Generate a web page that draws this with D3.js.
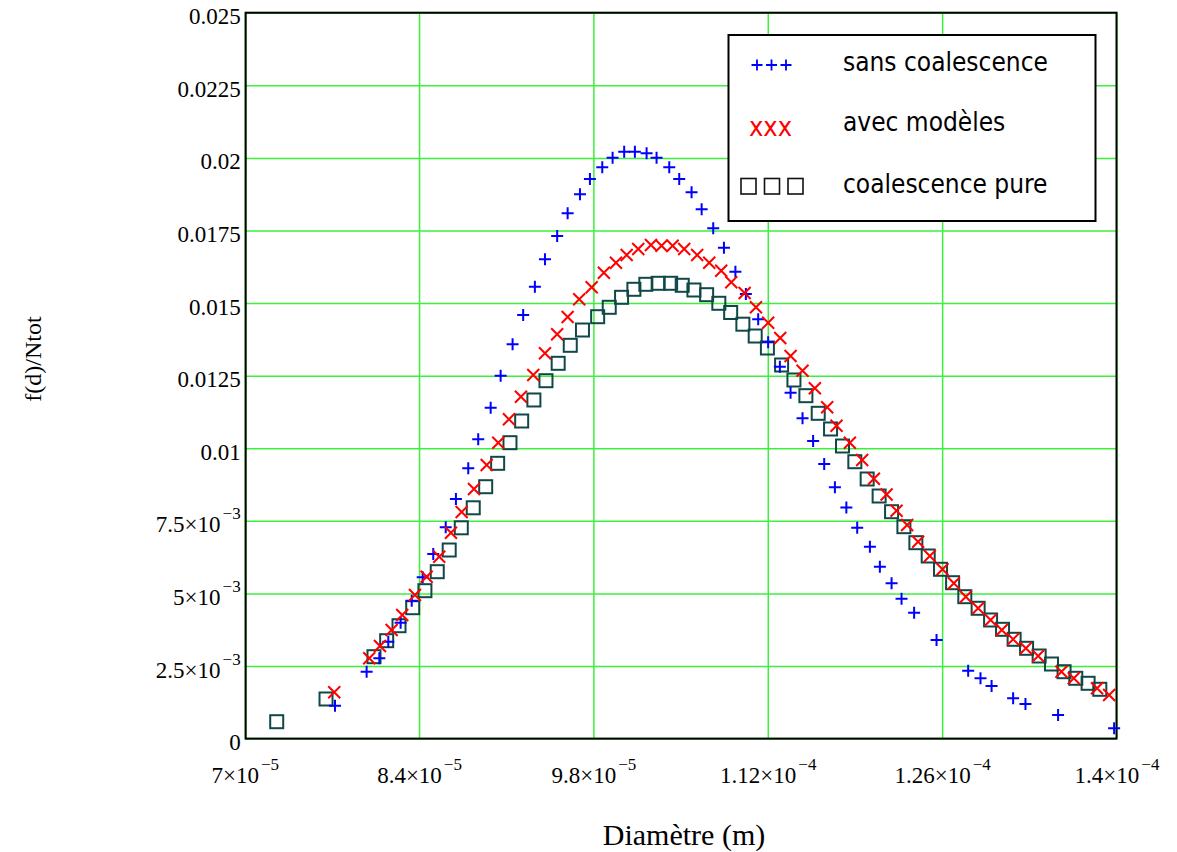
<!DOCTYPE html>
<html><head><meta charset="utf-8">
<script src="https://cdn.jsdelivr.net/npm/d3@7"></script>
<style>body{margin:0;background:#fff}</style></head>
<body>
<svg id="c" width="1177" height="852"></svg>
<script>
// ---- tick labels ----
const xTicks=[7e-5,8.4e-5,9.8e-5,1.12e-4,1.26e-4,1.4e-4];
const xTickMant=["7×10","8.4×10","9.8×10","1.12×10","1.26×10","1.4×10"];
const xTickExp=["−5","−5","−5","−4","−4","−4"];
const yTicks=[0,0.0025,0.005,0.0075,0.01,0.0125,0.015,0.0175,0.02,0.0225,0.025];
const yTickMant=["0","2.5×10","5×10","7.5×10","0.01","0.0125","0.015","0.0175","0.02","0.0225","0.025"];
const yTickExp=["","−3","−3","−3","","","","","","",""];

// ---- series: sans coalescence (+) ----
const sansD=[7.725e-5,7.979e-5,8.081e-5,8.153e-5,8.252e-5,8.341e-5,8.429e-5,8.514e-5,8.614e-5,8.696e-5,8.795e-5,8.875e-5,8.975e-5,9.055e-5,9.151e-5,9.236e-5,9.330e-5,9.411e-5,9.509e-5,9.593e-5,9.692e-5,9.772e-5,9.871e-5,9.954e-5,10.047e-5,10.133e-5,10.227e-5,10.307e-5,10.409e-5,10.489e-5,10.588e-5,10.669e-5,10.762e-5,10.848e-5,10.940e-5,11.024e-5,11.123e-5,11.203e-5,11.297e-5,11.383e-5,11.479e-5,11.564e-5,11.653e-5,11.739e-5,11.831e-5,11.918e-5,12.020e-5,12.100e-5,12.194e-5,12.274e-5,12.375e-5,12.555e-5,12.809e-5,12.908e-5,12.997e-5,13.170e-5,13.269e-5,13.531e-5,13.981e-5];
const sansF=[0.001133,0.002304,0.002766,0.003337,0.003992,0.004749,0.005555,0.006358,0.007277,0.008252,0.009309,0.010308,0.011396,0.012498,0.01358,0.014589,0.015563,0.016507,0.01731,0.018091,0.018746,0.019273,0.019676,0.020006,0.020213,0.020213,0.020158,0.020006,0.019676,0.019273,0.018815,0.018229,0.017575,0.016907,0.01608,0.015312,0.014444,0.013652,0.012808,0.011913,0.011031,0.010249,0.009457,0.008655,0.007959,0.007263,0.006609,0.00592,0.005349,0.004818,0.004336,0.003396,0.002338,0.002077,0.001812,0.001388,0.001192,0.000813,0.000355];

// ---- series: avec modèles (x) ----
const avecD=[7.719e-5,8.000e-5,8.086e-5,8.180e-5,8.265e-5,8.367e-5,8.461e-5,8.562e-5,8.656e-5,8.742e-5,8.841e-5,8.943e-5,9.036e-5,9.122e-5,9.218e-5,9.317e-5,9.411e-5,9.509e-5,9.593e-5,9.686e-5,9.786e-5,9.884e-5,9.981e-5,10.067e-5,10.160e-5,10.262e-5,10.347e-5,10.436e-5,10.529e-5,10.633e-5,10.730e-5,10.826e-5,10.907e-5,11.014e-5,11.105e-5,11.203e-5,11.300e-5,11.383e-5,11.479e-5,11.578e-5,11.677e-5,11.752e-5,11.859e-5,11.958e-5,12.052e-5,12.154e-5,12.234e-5,12.319e-5,12.407e-5,12.501e-5,12.603e-5,12.694e-5,12.790e-5,12.889e-5,12.989e-5,13.079e-5,13.170e-5,13.272e-5,13.371e-5,13.558e-5,13.657e-5,13.844e-5,13.941e-5];
const avecF=[0.001595,0.002766,0.003189,0.00374,0.004257,0.004946,0.005576,0.006265,0.007091,0.007804,0.008596,0.009423,0.010191,0.010997,0.011775,0.012522,0.01327,0.013924,0.01452,0.01513,0.015543,0.016046,0.01639,0.016655,0.016862,0.017,0.016975,0.016975,0.016862,0.016655,0.01639,0.016111,0.015719,0.015346,0.014854,0.014324,0.013797,0.013177,0.01267,0.012064,0.01141,0.010776,0.010191,0.009595,0.008948,0.008407,0.007849,0.007356,0.006781,0.006289,0.005831,0.005349,0.004887,0.004488,0.004085,0.00374,0.00342,0.00311,0.002845,0.002304,0.002077,0.001732,0.001502];

// ---- series: coalescence pure (squares) ----
const pureD=[7.257e-5,7.653e-5,8.038e-5,8.140e-5,8.239e-5,8.349e-5,8.447e-5,8.546e-5,8.642e-5,8.739e-5,8.835e-5,8.935e-5,9.031e-5,9.130e-5,9.224e-5,9.322e-5,9.419e-5,9.517e-5,9.614e-5,9.712e-5,9.834e-5,9.927e-5,10.026e-5,10.125e-5,10.221e-5,10.320e-5,10.420e-5,10.513e-5,10.607e-5,10.709e-5,10.807e-5,10.902e-5,11.000e-5,11.099e-5,11.197e-5,11.311e-5,11.410e-5,11.506e-5,11.605e-5,11.704e-5,11.800e-5,11.899e-5,11.998e-5,12.094e-5,12.194e-5,12.293e-5,12.389e-5,12.488e-5,12.587e-5,12.684e-5,12.782e-5,12.889e-5,12.989e-5,13.085e-5,13.178e-5,13.278e-5,13.379e-5,13.478e-5,13.579e-5,13.673e-5,13.772e-5,13.866e-5];
const pureF=[0.000582,0.001364,0.002821,0.003372,0.003888,0.004508,0.005094,0.005748,0.006495,0.00726,0.007949,0.008675,0.009481,0.010191,0.010938,0.011662,0.012326,0.012925,0.013545,0.014072,0.01453,0.014854,0.015198,0.015474,0.015646,0.015681,0.015681,0.015612,0.01545,0.015288,0.014992,0.014675,0.014272,0.013865,0.013452,0.012867,0.01235,0.01181,0.011203,0.010663,0.010077,0.009536,0.008941,0.008355,0.007814,0.007298,0.006747,0.006289,0.005831,0.005369,0.004887,0.004488,0.004085,0.003764,0.00342,0.00311,0.002845,0.002569,0.002304,0.002077,0.001905,0.001698];

const legendLabels=["sans coalescence","avec modèles","coalescence pure"];
const xTitle="Diamètre (m)", yTitle="f(d)/Ntot";

// ---- layout ----
const L=244.7,R=1116.5,T=12.7,B=738.6;
const svg=d3.select("#c");
const x=d3.scaleLinear().domain([7e-5,1.4e-4]).range([L,R]);
const y=d3.scaleLinear().domain([0,0.025]).range([B,T]);
const serif="'Liberation Serif','Times New Roman',serif";
const sans="'DejaVu Sans Condensed','DejaVu Sans',sans-serif";
const green="#3cf03c";

// grid
svg.append("g").attr("transform",`translate(0,${B})`)
  .call(d3.axisBottom(x).tickValues(xTicks).tickSize(-(B-T)).tickFormat(""))
  .call(g=>{g.select(".domain").remove();g.selectAll("line").attr("stroke",green).attr("stroke-width",1.5);});
svg.append("g").attr("transform",`translate(${L},0)`)
  .call(d3.axisLeft(y).tickValues(yTicks).tickSize(-(R-L)).tickFormat(""))
  .call(g=>{g.select(".domain").remove();g.selectAll("line").attr("stroke",green).attr("stroke-width",1.5);});

// frame
svg.append("rect").attr("x",L+1).attr("y",T).attr("width",R-L-1).attr("height",B-T)
  .attr("fill","none").attr("stroke","#000").attr("stroke-width",2);

// axis labels
const xa=svg.append("g").attr("transform",`translate(0,${B})`)
  .call(d3.axisBottom(x).tickValues(xTicks).tickSize(0).tickPadding(0).tickFormat(""));
xa.select(".domain").remove();
xa.selectAll(".tick text").remove();
xa.selectAll(".tick").each(function(d,i){
  const t=d3.select(this).append("text").attr("y",44).attr("text-anchor","middle")
    .attr("fill","#000").style("font-family",serif).style("font-size","23px");
  t.append("tspan").text(xTickMant[i]);
  t.append("tspan").attr("dx",2).attr("dy",-13).style("font-size","17px").text(xTickExp[i]);
});
const ya=svg.append("g").attr("transform",`translate(${L},0)`)
  .call(d3.axisLeft(y).tickValues(yTicks).tickSize(0).tickFormat(""));
ya.select(".domain").remove();
ya.selectAll(".tick text").remove();
ya.selectAll(".tick").each(function(d,i){
  const t=d3.select(this).append("text").attr("x",-4).attr("y",11).attr("text-anchor","end")
    .attr("fill","#000").style("font-family",serif).style("font-size","23px");
  t.append("tspan").text(yTickMant[i]);
  if(yTickExp[i]) t.append("tspan").attr("dx",2).attr("dy",-13).style("font-size","17px").text(yTickExp[i]);
});

// titles
svg.append("text").attr("x",684).attr("y",845).attr("text-anchor","middle")
  .style("font-family",serif).style("font-size","30px").text(xTitle);
svg.append("text").attr("transform","translate(41,359) rotate(-90)").attr("text-anchor","middle")
  .style("font-family",serif).style("font-size","24px").text(yTitle);

// markers
const sq=6.5, pl=6, cr=6;
svg.append("g").selectAll("rect").data(d3.zip(pureD,pureF)).join("rect")
  .attr("x",d=>x(d[0])-sq).attr("y",d=>y(d[1])-sq).attr("width",2*sq).attr("height",2*sq)
  .attr("fill","none").attr("stroke","#104848").attr("stroke-width",2);
svg.append("g").selectAll("path").data(d3.zip(sansD,sansF)).join("path")
  .attr("d",d=>{const a=x(d[0]),b=y(d[1]);return `M${a-pl},${b}H${a+pl}M${a},${b-pl}V${b+pl}`;})
  .attr("stroke","#0000ff").attr("stroke-width",2).attr("fill","none");
svg.append("g").selectAll("path").data(d3.zip(avecD,avecF)).join("path")
  .attr("d",d=>{const a=x(d[0]),b=y(d[1]);return `M${a-cr},${b-cr}L${a+cr},${b+cr}M${a-cr},${b+cr}L${a+cr},${b-cr}`;})
  .attr("stroke","#ff0000").attr("stroke-width",2).attr("fill","none");

// legend
const lg=svg.append("g");
lg.append("rect").attr("x",728.5).attr("y",35).attr("width",367).attr("height",186)
  .attr("fill","#fff").attr("stroke","#000").attr("stroke-width",2);
const ly=[70.5,131,193];
legendLabels.forEach((s,i)=>{
  lg.append("text").attr("x",843).attr("y",ly[i]).style("font-family",sans).style("font-size","26px")
    .attr("fill","#000").text(s);
});
[757,771.5,786].forEach(cx=>{
  lg.append("path").attr("d",`M${cx-5.5},65H${cx+5.5}M${cx},59.5V70.5`).attr("stroke","#0000ff").attr("stroke-width",1.8);
});
lg.append("text").attr("x",770.5).attr("y",136).attr("text-anchor","middle").style("font-family",sans)
  .style("font-size","27px").attr("fill","#ff0000").text("xxx");
[748.5,772,795.5].forEach(cx=>{
  lg.append("rect").attr("x",cx-7.5).attr("y",178.5).attr("width",15).attr("height",15.5)
    .attr("fill","none").attr("stroke","#111").attr("stroke-width",1.6);
});
</script>
</body></html>
